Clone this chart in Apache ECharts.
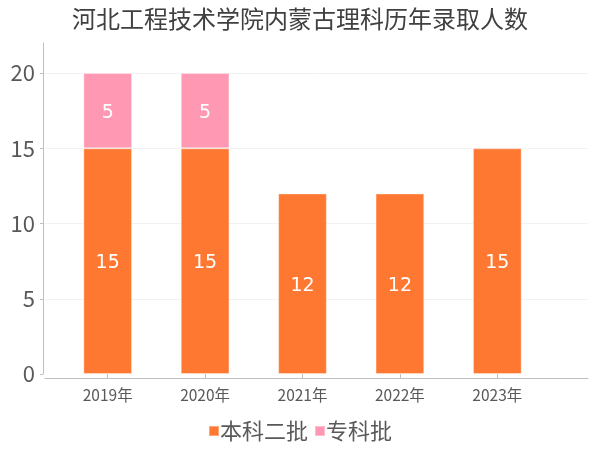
<!DOCTYPE html>
<html><head><meta charset="utf-8">
<script src="https://cdn.jsdelivr.net/npm/echarts@6/dist/echarts.min.js"></script>
<style>html,body{margin:0;padding:0;background:#fff}#c{width:600px;height:450px}</style>
</head><body><div id="c"></div>
<script>
const title = '河北工程技术学院内蒙古理科历年录取人数';
const categories = ['2019年', '2020年', '2021年', '2022年', '2023年'];
const seriesNames = ['本科二批', '专科批'];
const benke = [15, 15, 12, 12, 15];
const zhuanke = [5, 5, null, null, null];
const yTicks = {min: 0, max: 22, interval: 5};

const FONT = '"Noto Sans CJK SC", "Noto Sans", sans-serif';
const chart = echarts.init(document.getElementById('c'));
const labelStyle = {show: true, position: 'inside', color: '#fff', fontSize: 19, fontFamily: 'DejaVu Sans', offset: [0, 2]};
chart.setOption({
  animation: false,
  textStyle: {fontFamily: FONT},
  title: {text: title, left: 'center', top: 2, textStyle: {fontSize: 24, fontWeight: 'normal', color: '#404040', fontFamily: FONT}},
  legend: {
    data: seriesNames, bottom: 3, left: 'center', itemWidth: 10, itemHeight: 10, itemGap: 6,
    icon: 'rect', textStyle: {fontSize: 22, color: '#595959', fontFamily: FONT, padding: [0, 0, 0, -4]}
  },
  grid: [
    {left: 59, right: 54, top: 43, bottom: 76},
    {left: 45, right: 12, top: 43, bottom: 76}
  ],
  xAxis: [
    {
      type: 'category', data: categories, gridIndex: 0, offset: 4,
      axisLine: {show: false},
      axisTick: {show: true, alignWithLabel: true, length: 4, lineStyle: {color: '#bfbfbf'}},
      axisLabel: {fontSize: 15.5, color: '#595959', margin: 9, fontFamily: FONT}
    },
    {
      type: 'value', gridIndex: 1, offset: 4, min: 0, max: 1,
      axisLine: {show: true, onZero: false, lineStyle: {color: '#bfbfbf'}},
      axisTick: {show: false}, axisLabel: {show: false}, splitLine: {show: false}
    }
  ],
  yAxis: [
    {
      type: 'value', gridIndex: 0, min: yTicks.min, max: yTicks.max, interval: yTicks.interval, offset: 16,
      axisLine: {show: true, lineStyle: {color: '#bfbfbf'}},
      axisTick: {show: true, length: 3, lineStyle: {color: '#bfbfbf'}},
      axisLabel: {fontSize: 22, color: '#595959', margin: 8, showMaxLabel: false, fontFamily: FONT},
      splitLine: {show: false}
    },
    {
      type: 'value', gridIndex: 1, min: yTicks.min, max: yTicks.max, interval: yTicks.interval,
      axisLine: {show: false}, axisTick: {show: false}, axisLabel: {show: false},
      splitLine: {show: true, showMaxLine: false, showMinLine: false, lineStyle: {color: '#f2f2f2'}}
    }
  ],
  series: [
    {
      name: seriesNames[0], type: 'bar', stack: 's', data: benke, barWidth: '50%',
      itemStyle: {color: '#FF7832', borderColor: 'rgba(255,255,255,0.35)', borderWidth: 1},
      label: labelStyle
    },
    {
      name: seriesNames[1], type: 'bar', stack: 's', data: zhuanke, barWidth: '50%',
      itemStyle: {color: '#FF99B3', borderColor: 'rgba(255,255,255,0.35)', borderWidth: 1},
      label: labelStyle
    }
  ]
});
</script></body></html>
